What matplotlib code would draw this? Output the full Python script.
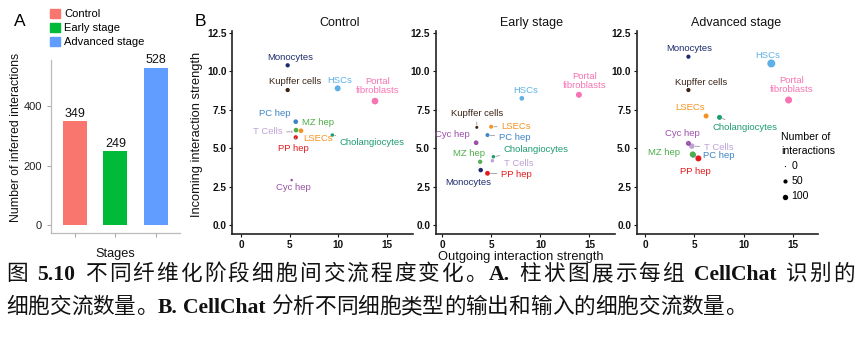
import numpy as np
import matplotlib
matplotlib.use("Agg")
import matplotlib.pyplot as plt
from matplotlib.patches import Patch

plt.rcParams['font.family'] = ['Liberation Sans', 'DejaVu Sans']

# ---------------- data ----------------
stages = ['Control', 'Early stage', 'Advanced stage']
n_interactions = [349, 249, 528]
stage_colors = ['#F8766D', '#00BA38', '#619CFF']

cell_types = ['Monocytes', 'Kupffer cells', 'HSCs', 'Portal fibroblasts', 'PC hep',
              'MZ hep', 'T Cells', 'LSECs', 'PP hep', 'Cholangiocytes', 'Cyc hep']
cell_labels = ['Monocytes', 'Kupffer cells', 'HSCs', 'Portal\nfibroblasts', 'PC hep',
               'MZ hep', 'T Cells', 'LSECs', 'PP hep', 'Cholangiocytes', 'Cyc hep']
cell_colors = ['#1E2C6E', '#3A2416', '#5DB1E6', '#F674B2', '#3D85C6',
               '#4DAE49', '#BFA2D6', '#F7931E', '#E41A1C', '#1E9C73', '#9B4FA8']

ctrl_out = [4.80, 4.80, 9.95, 13.79, 5.63, 5.66, 5.21, 6.17, 5.63, 9.40, 5.21]
ctrl_in = [10.40, 8.79, 8.90, 8.07, 6.73, 6.18, 6.07, 6.14, 5.71, 5.86, 2.93]
ctrl_n = [54, 54, 131, 171, 69, 69, 4, 69, 54, 30, 10]

early_out = [3.91, 3.51, 8.10, 13.92, 4.60, 3.85, 5.10, 4.97, 4.60, 5.20, 3.44]
early_in = [3.58, 6.36, 8.25, 8.48, 5.86, 4.12, 4.19, 6.40, 3.37, 4.45, 5.36]
early_n = [62, 18, 69, 131, 44, 54, 30, 44, 73, 30, 69]

adv_out = [4.40, 4.40, 12.80, 14.55, 4.90, 4.84, 4.74, 6.19, 5.41, 7.55, 4.40]
adv_in = [10.96, 8.79, 10.52, 8.14, 4.55, 4.60, 5.14, 7.10, 4.34, 7.01, 5.32]
adv_n = [51, 51, 262, 191, 82, 131, 105, 82, 131, 82, 82]

size_breaks = [0, 50, 100]

# label offsets in pixels (dx, dy) and whether a repel segment is drawn
ctrl_lab = {'Monocytes': (3, 8, 0), 'Kupffer cells': (7, 9, 0), 'HSCs': (2, 8, 0),
            'Portal fibroblasts': (3, 15, 0), 'PC hep': (-21, 8, 0), 'MZ hep': (22, 8, 0),
            'T Cells': (-24, 0, 1), 'LSECs': (17, -8, 1), 'PP hep': (-2, -11, 1),
            'Cholangiocytes': (40, -7, 1), 'Cyc hep': (2, -7, 0)}
early_lab = {'Monocytes': (-12, -12, 0), 'Kupffer cells': (0, 14, 1), 'HSCs': (4, 8, 0),
             'Portal fibroblasts': (6, 14, 0), 'PC hep': (27, -2, 1), 'MZ hep': (-11, 8, 1),
             'T Cells': (26, -3, 0), 'LSECs': (25, 0, 1), 'PP hep': (29, -1, 1),
             'Cholangiocytes': (43, 7, 1), 'Cyc hep': (-24, 8, 0)}
adv_lab = {'Monocytes': (1, 8, 0), 'Kupffer cells': (13, 8, 0), 'HSCs': (-4, 8, 0),
           'Portal fibroblasts': (3, 15, 0), 'PC hep': (25, 0, 0), 'MZ hep': (-29, 2, 0),
           'T Cells': (27, -1, 1), 'LSECs': (-16, 8, 1), 'PP hep': (-3, -13, 0),
           'Cholangiocytes': (25, -10, 1), 'Cyc hep': (-6, 10, 1)}

W, H = 865, 359
fig = plt.figure(figsize=(W / 100, H / 100), dpi=100)


def rect(l, t, r, b):
    return [l / W, 1 - b / H, (r - l) / W, (b - t) / H]


def dot_size(n):
    d_px = 1.2 + 0.42 * np.sqrt(np.asarray(n, dtype=float))
    return (d_px * 0.72) ** 2


# ---------------- panel A ----------------
axA = fig.add_axes(rect(50.7, 60, 180, 233))
xpos = np.arange(1, len(stages) + 1)
bars = axA.bar(xpos, n_interactions, width=0.6, color=stage_colors)
axA.bar_label(bars, labels=[str(v) for v in n_interactions], padding=1, fontsize=9, color='#111111')
axA.set_xlim(0.4, 3.6)
axA.set_ylim(-26.4, 554.4)
axA.set_xticks(xpos)
axA.set_xticklabels([])
axA.set_yticks([0, 200, 400])
axA.tick_params(axis='both', colors='#AAAAAA', length=3, width=0.8, labelsize=8, labelcolor='#222222')
for s in ['top', 'right']:
    axA.spines[s].set_visible(False)
for s in ['left', 'bottom']:
    axA.spines[s].set_color('#BBBBBB')
    axA.spines[s].set_linewidth(0.9)
axA.set_xlabel('Stages', fontsize=9.2, labelpad=4, color='#111111')
fig.text(16 / W, 1 - 137 / H, 'Number of inferred interactions', rotation=90, fontsize=8.8,
         ha='center', va='center', color='#111111')
fig.legend([Patch(color=c) for c in stage_colors], stages, loc='upper left',
           bbox_to_anchor=(50 / W, 1 - 9 / H), frameon=False, fontsize=8,
           handlelength=0.9, handleheight=0.9, handletextpad=0.4, labelspacing=0.3,
           borderpad=0, borderaxespad=0)
fig.text(20 / W, 1 - 21 / H, 'A', fontsize=12.5, ha='center', va='center')
fig.text(200 / W, 1 - 21 / H, 'B', fontsize=12.5, ha='center', va='center')

# ---------------- panel B ----------------
panels = [
    ('Control', ctrl_out, ctrl_in, ctrl_n, ctrl_lab, (232, 413), (-0.93, 17.7), 339.5),
    ('Early stage', early_out, early_in, early_n, early_lab, (435.7, 615), (-0.68, 17.6), 531),
    ('Advanced stage', adv_out, adv_in, adv_n, adv_lab, (636.7, 817.7), (-0.84, 17.5), 736),
]
for title, xo, yi, nn, labs, (l, r), xl, tx in panels:
    ax = fig.add_axes(rect(l, 31.5, r, 234.3))
    ax.scatter(xo, yi, s=dot_size(nn), c=cell_colors, linewidths=0, zorder=3)
    ax.set_xlim(*xl)
    ax.set_ylim(-0.6, 12.6)
    ax.set_xticks([0, 5, 10, 15])
    ax.set_yticks([0, 2.5, 5, 7.5, 10, 12.5])
    ax.set_yticklabels(['0.0', '2.5', '5.0', '7.5', '10.0', '12.5'])
    ax.tick_params(axis='both', length=2.5, width=0.8, labelsize=7.2, pad=1.5, colors='#111111')
    for lab in ax.get_xticklabels() + ax.get_yticklabels():
        lab.set_fontweight('bold')
    for s in ['top', 'right']:
        ax.spines[s].set_visible(False)
    for s in ['left', 'bottom']:
        ax.spines[s].set_linewidth(1.2)
        ax.spines[s].set_color('#222222')
    for name, label, col, x, y, n in zip(cell_types, cell_labels, cell_colors, xo, yi, nn):
        dx, dy, seg = labs[name]
        rad = (1.2 + 0.42 * np.sqrt(n)) * 0.72 / 2
        ap = dict(arrowstyle='-', color='#999999', lw=0.6, shrinkA=1, shrinkB=rad + 0.5) if seg else None
        ax.annotate(label, xy=(x, y), xytext=(dx, dy), textcoords='offset pixels',
                    ha='center', va='center', fontsize=6.8, color=col, linespacing=0.95,
                    arrowprops=ap, zorder=4)
    fig.text(tx / W, 1 - 23 / H, title, fontsize=9, ha='center', va='center', color='#111111')

fig.text(197 / W, 1 - 134 / H, 'Incoming interaction strength', rotation=90, fontsize=9.3,
         ha='center', va='center', color='#111111')
fig.text(521 / W, 1 - 257 / H, 'Outgoing interaction strength', fontsize=9.3,
         ha='center', va='center', color='#111111')

hs = [plt.scatter([], [], s=dot_size(b), color='black', linewidths=0) for b in size_breaks]
leg = fig.legend(hs, [str(b) for b in size_breaks], title='Number of\ninteractions',
                 loc='upper left', bbox_to_anchor=(781 / W, 1 - 132 / H), frameon=False,
                 fontsize=7.6, title_fontsize=7.6, handlelength=0.8, handletextpad=0.2,
                 labelspacing=0.5, borderpad=0, borderaxespad=0, alignment='left',
                 scatterpoints=1)
leg.get_title().set_linespacing(1.45)

# ---------------- caption ----------------
renderer = fig.canvas.get_renderer()
CJK = 'Noto Sans CJK SC'
SER = 'Liberation Serif'
FS = 15.6


def place_line(pieces, y_px, x0_px, target_w=None, gap_px=5.5):
    # CJK runs are split per character so that a justified line spreads evenly
    items = []
    for p in pieces:
        if p is None:
            items.append(('gap', None))
            continue
        s, fam, wt = p
        chunks = list(s) if fam == CJK else [s]
        for ch in chunks:
            t = fig.text(0, 1 - y_px / H, ch, family=fam, fontweight=wt, fontsize=FS,
                         va='baseline', ha='left', color='#111111')
            items.append(('t', t))
    widths = [t.get_window_extent(renderer).width if k == 't' else gap_px for k, t in items]
    natural = sum(widths)
    extra = 0.0
    if target_w is not None and len(items) > 1:
        extra = (target_w - natural) / (len(items) - 1)
    x = x0_px
    for (k, t), w in zip(items, widths):
        if k == 't':
            t.set_x(x / W)
        x += w + extra


line1 = [('图', CJK, 'normal'), None, ('5.10', SER, 'bold'), None,
         ('不同纤维化阶段细胞间交流程度变化。', CJK, 'normal'), ('A.', SER, 'bold'), None,
         ('柱状图展示每组', CJK, 'normal'), None, ('CellChat', SER, 'bold'), None,
         ('识别的', CJK, 'normal')]
line2 = [('细胞交流数量。', CJK, 'normal'), ('B.', SER, 'bold'), None, ('CellChat', SER, 'bold'), None,
         ('分析不同细胞类型的输出和输入的细胞交流数量。', CJK, 'normal')]
place_line(line1, 280, 6, target_w=849)
place_line(line2, 313, 6)

fig.savefig('out.png', dpi=100)
